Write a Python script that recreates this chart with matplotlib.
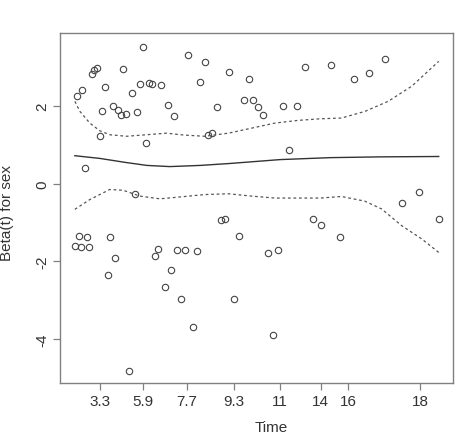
import matplotlib
matplotlib.use("Agg")
import matplotlib.pyplot as plt
from matplotlib import font_manager

# ---- data (x in Kaplan-Meier transformed time scale, 0..1) ----
resid_x = [0.005, 0.021, 0.048, 0.054, 0.061, 0.068, 0.028, 0.075, 0.082, 0.104,
           0.118, 0.126, 0.133, 0.141, 0.157, 0.164, 0.171, 0.180, 0.188, 0.195,
           0.203, 0.213, 0.238, 0.255, 0.273, 0.312, 0.345, 0.357, 0.365, 0.377,
           0.390, 0.425, 0.465, 0.478, 0.490, 0.503, 0.516, 0.572, 0.588, 0.610,
           0.632, 0.703, 0.768, 0.809, 0.853, 0.900, 0.947,
           0.000, 0.011, 0.017, 0.034, 0.040, 0.090, 0.096, 0.111, 0.149, 0.221,
           0.229, 0.247, 0.265, 0.282, 0.292, 0.302, 0.324, 0.335, 0.401, 0.413,
           0.438, 0.452, 0.531, 0.544, 0.558, 0.654, 0.677, 0.729, 1.000]
resid_y = [2.26, 2.41, 2.82, 2.92, 2.98, 1.22, 0.40, 1.87, 2.49, 2.00,
           1.89, 1.76, 2.96, 1.79, 2.34, -0.27, 1.85, 2.57, 3.53, 1.06,
           2.60, 2.57, 2.55, 2.03, 1.73, 3.30, 2.63, 3.13, 1.25, 1.31,
           1.97, 2.87, 2.15, 2.70, 2.15, 1.97, 1.78, 2.00, 0.86, 2.00,
           3.01, 3.06, 2.69, 2.85, 3.20, -0.51, -0.21,
           -1.60, -1.35, -1.63, -1.36, -1.63, -2.35, -1.37, -1.91, -4.82, -1.87,
           -1.69, -2.67, -2.23, -1.70, -2.97, -1.71, -3.68, -1.74, -0.94, -0.92,
           -2.98, -1.35, -1.79, -3.89, -1.71, -0.92, -1.06, -1.36, -0.91]

fit_x = [0.0, 0.069, 0.137, 0.198, 0.261, 0.344, 0.426, 0.564, 0.701, 0.838, 1.0]
fit_y = [0.72, 0.65, 0.55, 0.47, 0.44, 0.47, 0.52, 0.62, 0.67, 0.69, 0.70]

upper_x = [0.0, 0.014, 0.041, 0.069, 0.096, 0.142, 0.197, 0.252, 0.302, 0.357,
           0.422, 0.486, 0.550, 0.614, 0.674, 0.733, 0.797, 0.861, 0.926, 1.0]
upper_y = [2.12, 1.86, 1.56, 1.36, 1.26, 1.22, 1.26, 1.30, 1.25, 1.22,
           1.30, 1.43, 1.56, 1.63, 1.67, 1.69, 1.86, 2.12, 2.51, 3.15]

lower_x = [0.0, 0.041, 0.096, 0.133, 0.179, 0.234, 0.302, 0.357, 0.422, 0.486,
           0.550, 0.674, 0.733, 0.797, 0.843, 0.898, 0.953, 1.0]
lower_y = [-0.66, -0.41, -0.15, -0.17, -0.32, -0.39, -0.33, -0.28, -0.26, -0.32,
           -0.37, -0.37, -0.33, -0.45, -0.65, -1.08, -1.42, -1.77]

xtick_pos = [0.0687, 0.1878, 0.3071, 0.438, 0.5637, 0.6756, 0.7514, 0.9486]
xtick_labels = ["3.3", "5.9", "7.7", "9.3", "11", "14", "16", "18"]
ytick_vals = [-4, -2, 0, 2]

# ---- font ----
names = {f.name for f in font_manager.fontManager.ttflist}
fam = "Liberation Sans Narrow" if "Liberation Sans Narrow" in names else "Liberation Sans"
plt.rcParams["font.family"] = [fam, "DejaVu Sans"]
plt.rcParams["font.size"] = 11

txt = "#333333"
fig = plt.figure(figsize=(4.74, 4.35), dpi=100)
ax = fig.add_axes([0.1272, 0.1166, 0.8291, 0.8041])

ax.plot(resid_x, resid_y, linestyle="none", marker="o", ms=4.6,
        mfc="none", mec="#444444", mew=0.8)
ax.plot(fit_x, fit_y, color="#333333", lw=1.0)
ax.plot(upper_x, upper_y, color="#555555", lw=0.9, dashes=(2.2, 2.2))
ax.plot(lower_x, lower_y, color="#555555", lw=0.9, dashes=(2.2, 2.2))

span = max(resid_x) - min(resid_x)
ax.set_xlim(min(resid_x) - 0.04 * span, max(resid_x) + 0.04 * span)
ax.set_ylim(-5.138, 3.866)

ax.set_xticks(xtick_pos)
ax.set_xticklabels(xtick_labels)
ax.set_yticks(ytick_vals)
ax.set_yticklabels([str(v) for v in ytick_vals], rotation=90, va="center")

for s in ax.spines.values():
    s.set_color("#808080")
    s.set_linewidth(1.0)
ax.tick_params(direction="out", length=5, width=0.9, color="#808080",
               labelcolor=txt, labelsize=11)
ax.tick_params(axis="x", pad=3)
ax.tick_params(axis="y", pad=3)

ax.set_xlabel("Time", color=txt, fontsize=11)
ax.xaxis.set_label_coords(0.536, -0.105)
ax.set_ylabel("Beta(t) for sex", color=txt, fontsize=11)
ax.yaxis.set_label_coords(-0.118, 0.49)

fig.savefig("out.png", dpi=100)
